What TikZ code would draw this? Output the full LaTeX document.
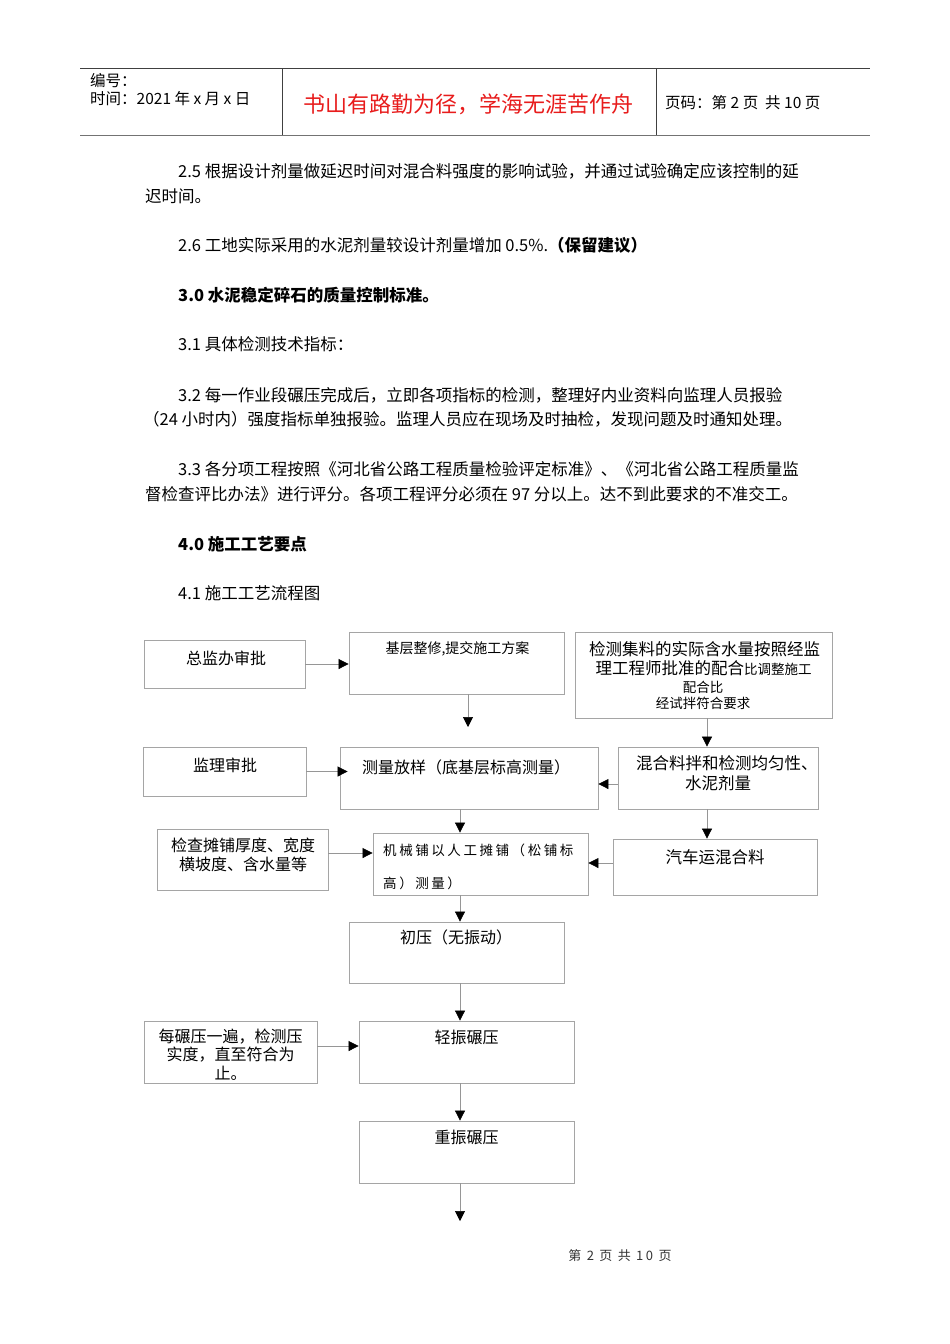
\documentclass[tikz,border=0pt]{standalone}
\usepackage{fontspec}
\setmainfont{Noto Sans CJK SC}
\newfontfamily\spacedfont[LetterSpace=19]{Noto Sans CJK SC}
\usetikzlibrary{arrows.meta,positioning,fit}
\definecolor{boxgray}{RGB}{165,165,165}
\definecolor{linegray}{RGB}{150,150,150}
\definecolor{titlered}{RGB}{232,28,28}
\newcommand\fsz[1]{\fontsize{#1}{#1}\selectfont}

\begin{document}
\begin{tikzpicture}[x=1pt,y=-1pt,>={Triangle[length=10pt,width=10pt,color=black]},
 box/.style={draw=boxgray,line width=0.8pt,inner sep=0pt},
 txt/.style={inner sep=0pt,font=\fsz{16}},
 small/.style={inner sep=0pt,font=\fsz{13.5}},
 head/.style={anchor=west,inner sep=0pt,font=\fsz{15.5}},
 para/.style={anchor=west,inner sep=0pt,text height=14.5pt,text depth=2pt,font=\fsz{16.5}},
 arr/.style={->,draw=linegray,line width=0.7pt}]
\path[fill=white] (0,0) rectangle (950,1344);
% page header
\draw[black!75,line width=0.8pt] (80,68) -- (870,68);
\draw[black!55,line width=1.8pt] (80,135.5) -- (870,135.5);
\draw[black!75,line width=0.8pt] (282,68) -- (282,135) (656,68) -- (656,135);
\node[head] (num) at (90,81) {编号：};
\node[head] (date) at (90,99) {时间：2021 年 x 月 x 日};
\node[inner sep=0pt,font=\fsz{22},text=titlered] (motto) at (468,104) {书山有路勤为径，学海无涯苦作舟};
\node[head] (pageno) at (665,103) {页码：第 2 页\ \ 共 10 页};
% body text
\node[para] (p1) at (178,171) {2.5 根据设计剂量做延迟时间对混合料强度的影响试验，并通过试验确定应该控制的延};
\node[para] (p2) at (145,196) {迟时间。};
\node[para] (p3) at (178,245) {2.6 工地实际采用的水泥剂量较设计剂量增加 0.5\%.{\bfseries（保留建议）}};
\node[para,font=\fsz{16.5}\bfseries] (p4) at (178,295) {3.0 水泥稳定碎石的质量控制标准。};
\node[para] (p5) at (178,344) {3.1 具体检测技术指标：};
\node[para] (p6) at (178,395) {3.2 每一作业段碾压完成后，立即各项指标的检测，整理好内业资料向监理人员报验};
\node[para] (p7) at (143,419) {（24 小时内）强度指标单独报验。监理人员应在现场及时抽检，发现问题及时通知处理。};
\node[para] (p8) at (178,469) {3.3 各分项工程按照《河北省公路工程质量检验评定标准》、《河北省公路工程质量监};
\node[para] (p9) at (145,494) {督检查评比办法》进行评分。各项工程评分必须在 97 分以上。达不到此要求的不准交工。};
\node[para,font=\fsz{16.5}\bfseries] (p10) at (178,544) {4.0 施工工艺要点};
\node[para] (p11) at (178,593) {4.1 施工工艺流程图};
% flow chart boxes
\node[box,fit={(144,640) (305,688)}] (approve) {};
\node[box,fit={(349,632) (564,694)}] (base) {};
\node[box,fit={(575,632) (832,718)}] (aggr) {};
\node[box,fit={(143,747) (306,796)}] (superv) {};
\node[box,fit={(340,747) (598,809)}] (survey) {};
\node[box,fit={(618,747) (818,809)}] (mix) {};
\node[box,fit={(157,829) (328,890)}] (check) {};
\node[box,fit={(373,833) (588,895)}] (pave) {};
\node[box,fit={(613,839) (817,895)}] (truck) {};
\node[box,fit={(349,922) (564,983)}] (initial) {};
\node[box,fit={(144,1021) (317,1083)}] (each) {};
\node[box,fit={(359,1021) (574,1083)}] (light) {};
\node[box,fit={(359,1121) (574,1183)}] (heavy) {};
% box texts
\node[txt] (approveT) at (226,658) {总监办审批};
\node[inner sep=0pt,font=\fsz{14}] (baseT) at (457.5,649) {基层整修,提交施工方案};
\node[txt,font=\fsz{16.5}] (aggrT1) at (704.5,649) {检测集料的实际含水量按照经监};
\node[txt,font=\fsz{16.5}] (aggrT2) at (703.5,668) {理工程师批准的配合{\fsz{13.5}比调整施工}};
\node[small] (aggrT3) at (703,687) {配合比};
\node[small] (aggrT4) at (703,703) {经试拌符合要求};
\node[txt] (supervT) at (225,765) {监理审批};
\node[txt] (surveyT) at (466,767) {测量放样（底基层标高测量）};
\node[txt,font=\fsz{16.5},anchor=west] (mixT1) at (636,763) {混合料拌和检测均匀性、};
\node[txt,font=\fsz{16.5}] (mixT2) at (718,783) {水泥剂量};
\node[txt] (checkT1) at (243,845) {检查摊铺厚度、宽度};
\node[txt] (checkT2) at (243,864) {横坡度、含水量等};
\node[anchor=west,inner sep=0pt,font=\spacedfont\fsz{13.5}] (paveT1) at (383,850) {机械铺以人工摊铺（松铺标};
\node[anchor=west,inner sep=0pt,font=\spacedfont\fsz{13.5}] (paveT2) at (383,883) {高）测量）};
\node[txt,font=\fsz{16.5}] (truckT) at (715,857) {汽车运混合料};
\node[txt] (initialT) at (456,937) {初压（无振动）};
\node[txt] (eachT1) at (230.5,1037) {每碾压一遍，检测压};
\node[txt] (eachT2) at (230.5,1055) {实度，直至符合为};
\node[txt] (eachT3) at (230.5,1073) {止。};
\node[txt] (lightT) at (466.5,1037) {轻振碾压};
\node[txt] (heavyT) at (466.5,1137) {重振碾压};
% connector columns, rows and free ends
\coordinate (colM) at (460,0);
\coordinate (colR) at (707,0);
\coordinate (rowMix) at (0,784);
\coordinate (rowCheck) at (0,853);
\coordinate (rowTruck) at (0,863);
\coordinate (rowEach) at (0,1046);
\coordinate (tipBase) at (468,727);
\coordinate (tipEnd) at (460,1221);
% connectors
\draw[arr] (approve.east) -- (base.west |- approve.east);
\draw[arr] (base.south -| tipBase) -- (tipBase);
\draw[arr] (aggr.south -| colR) -- (mix.north -| colR);
\draw[arr,shorten >=-8pt] (superv.east) -- (survey.west |- superv.east);
\draw[arr] (mix.west |- rowMix) -- (survey.east |- rowMix);
\draw[arr] (survey.south -| colM) -- (pave.north -| colM);
\draw[arr] (check.east |- rowCheck) -- (pave.west |- rowCheck);
\draw[arr] (mix.south -| colR) -- (truck.north -| colR);
\draw[arr] (truck.west |- rowTruck) -- (pave.east |- rowTruck);
\draw[arr] (pave.south -| colM) -- (initial.north -| colM);
\draw[arr] (initial.south -| colM) -- (light.north -| colM);
\draw[arr] (each.east |- rowEach) -- (light.west |- rowEach);
\draw[arr] (light.south -| colM) -- (heavy.north -| colM);
\draw[arr] (heavy.south -| colM) -- (tipEnd);
% page footer
\node[inner sep=0pt,font=\spacedfont\fsz{13},text=black!80] (foot) at (620,1256) {第 2 页 共 10 页};
\end{tikzpicture}
\end{document}
